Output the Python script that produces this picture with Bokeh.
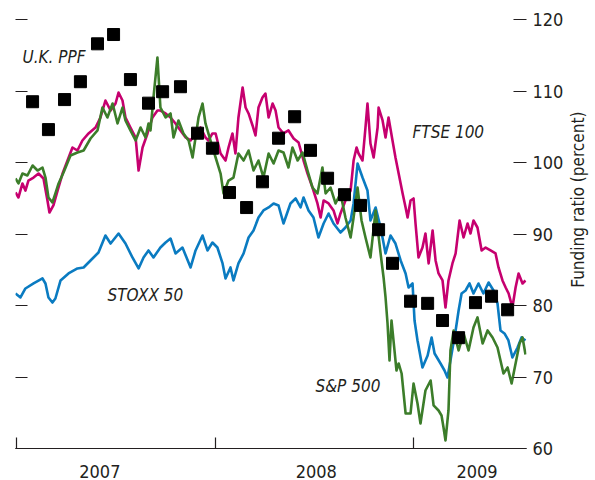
import math
from bokeh.plotting import figure
from bokeh.layouts import row
from bokeh.models import Range1d, LinearAxis, FixedTicker, Label
from bokeh.core.properties import value
from bokeh.embed import file_html
from bokeh.resources import INLINE

FONT = "DejaVu Sans Condensed, Liberation Sans"
TXT = "#231F20"

# ---- axis data ----
year_bounds = [2007, 2008, 2009]
year_label_pos = [2007.42, 2008.51, 2009.32]
year_labels = ["2007", "2008", "2009"]
y_ticks = [60, 70, 80, 90, 100, 110, 120]
y_title = "Funding ratio (percent)"
y_title_center = 94.8

# ---- U.K. PPF (monthly squares) ----
ppf_t = [2007.081, 2007.161, 2007.242, 2007.322, 2007.408, 2007.489, 2007.574, 2007.665,
         2007.736, 2007.826, 2007.912, 2007.987, 2008.073, 2008.159, 2008.239, 2008.320,
         2008.401, 2008.481, 2008.567, 2008.652, 2008.733, 2008.824, 2008.894, 2008.985,
         2009.071, 2009.146, 2009.227, 2009.312, 2009.393, 2009.474]
ppf_v = [108.5, 104.6, 108.8, 111.3, 116.6, 117.9, 111.6, 108.3, 109.9, 110.6, 104.1, 102.0,
         95.8, 93.7, 97.3, 103.4, 106.4, 101.7, 97.8, 95.5, 94.0, 90.6, 85.9, 80.6,
         80.3, 77.9, 75.5, 80.4, 81.3, 79.4]

# ---- STOXX 50 ----
stoxx_t = [2006.995, 2007.020, 2007.045, 2007.086, 2007.131, 2007.146, 2007.161, 2007.181,
           2007.196, 2007.222, 2007.262, 2007.307, 2007.338, 2007.373, 2007.413, 2007.448,
           2007.474, 2007.514, 2007.549, 2007.584, 2007.615, 2007.640, 2007.665, 2007.690,
           2007.725, 2007.751, 2007.776, 2007.801, 2007.836, 2007.877, 2007.902, 2007.937,
           2007.962, 2007.987, 2008.012, 2008.038, 2008.053, 2008.078, 2008.093, 2008.118,
           2008.144, 2008.169, 2008.194, 2008.219, 2008.244, 2008.270, 2008.295, 2008.320,
           2008.345, 2008.380, 2008.406, 2008.431, 2008.446, 2008.471, 2008.496, 2008.521,
           2008.547, 2008.572, 2008.597, 2008.632, 2008.657, 2008.683, 2008.698, 2008.718,
           2008.743, 2008.768, 2008.783, 2008.809, 2008.834, 2008.859, 2008.884, 2008.909,
           2008.935, 2008.960, 2008.975, 2008.995, 2009.005, 2009.020, 2009.045, 2009.071,
           2009.091, 2009.106, 2009.136, 2009.156, 2009.171, 2009.186, 2009.212, 2009.227,
           2009.242, 2009.262, 2009.282, 2009.302, 2009.327, 2009.352, 2009.378, 2009.403,
           2009.423, 2009.438, 2009.458, 2009.478, 2009.498, 2009.524, 2009.544, 2009.564]
stoxx_v = [81.68, 81.12, 82.38, 83.08, 83.78, 83.08, 81.12, 80.42,
           80.98, 83.50, 84.48, 85.18, 85.32, 86.30, 87.41, 89.79,
           88.67, 90.07, 88.67, 86.72, 85.18, 86.72, 87.70, 86.72,
           88.11, 88.81, 89.37, 87.28, 88.11, 85.32, 87.70, 89.79,
           87.70, 88.81, 88.11, 85.88, 83.78, 85.32, 83.50, 85.88,
           87.28, 89.51, 90.49, 92.31, 93.29, 93.71, 94.27, 93.99,
           91.47, 94.27, 94.97, 93.71, 95.11, 93.29, 92.31, 89.51,
           91.47, 92.87, 91.47, 90.21, 90.91, 91.89, 94.27, 99.86,
           97.90, 96.08, 91.89, 93.71, 90.91, 87.28, 89.79, 88.67,
           86.30, 84.48, 82.52, 83.08, 77.91, 75.11, 71.33, 73.01,
           75.53, 73.29, 71.89, 70.91, 69.93, 72.31, 76.51, 79.30,
           81.68, 82.10, 83.08, 81.68, 83.08, 81.68, 83.22, 82.10,
           80.28, 76.51, 76.09, 75.11, 72.73, 74.13, 75.53, 75.11]

# ---- S&P 500 ----
sp_t = [2006.995, 2007.010, 2007.030, 2007.055, 2007.081, 2007.106, 2007.131, 2007.146,
        2007.161, 2007.181, 2007.196, 2007.212, 2007.237, 2007.272, 2007.307, 2007.338,
        2007.373, 2007.408, 2007.433, 2007.458, 2007.484, 2007.509, 2007.534, 2007.549,
        2007.574, 2007.600, 2007.625, 2007.650, 2007.665, 2007.675, 2007.690, 2007.710,
        2007.725, 2007.751, 2007.776, 2007.791, 2007.816, 2007.841, 2007.867, 2007.887,
        2007.902, 2007.917, 2007.937, 2007.952, 2007.977, 2008.003, 2008.028, 2008.043,
        2008.068, 2008.093, 2008.118, 2008.144, 2008.169, 2008.194, 2008.219, 2008.244,
        2008.270, 2008.295, 2008.320, 2008.345, 2008.370, 2008.390, 2008.416, 2008.441,
        2008.466, 2008.491, 2008.516, 2008.541, 2008.557, 2008.582, 2008.607, 2008.632,
        2008.657, 2008.683, 2008.698, 2008.718, 2008.738, 2008.758, 2008.783, 2008.809,
        2008.834, 2008.849, 2008.859, 2008.869, 2008.879, 2008.889, 2008.899, 2008.914,
        2008.925, 2008.940, 2008.960, 2008.985, 2009.000, 2009.020, 2009.035, 2009.060,
        2009.086, 2009.101, 2009.126, 2009.141, 2009.151, 2009.161, 2009.176, 2009.186,
        2009.202, 2009.227, 2009.252, 2009.277, 2009.302, 2009.322, 2009.348, 2009.373,
        2009.398, 2009.423, 2009.438, 2009.453, 2009.474, 2009.494, 2009.514, 2009.534,
        2009.549, 2009.564]
sp_v = [97.77, 97.07, 98.46, 98.18, 99.58, 98.88, 99.30, 97.90,
        95.11, 94.41, 95.67, 97.07, 98.60, 100.98, 101.40, 101.68,
        103.36, 104.48, 107.69, 106.30, 108.25, 105.46, 107.69, 105.88,
        104.48, 103.08, 104.90, 103.50, 105.46, 104.48, 109.09, 114.69,
        107.69, 106.30, 106.86, 103.50, 105.88, 104.06, 103.08, 100.70,
        103.50, 106.30, 108.25, 105.46, 103.08, 100.70, 98.46, 95.67,
        97.48, 97.90, 101.26, 100.28, 101.68, 98.88, 100.28, 97.90,
        101.26, 99.86, 101.68, 101.40, 99.30, 102.10, 100.28, 101.40,
        98.88, 96.50, 95.67, 99.30, 95.67, 96.50, 94.27, 95.67,
        92.31, 89.51, 92.31, 96.50, 91.89, 89.51, 86.72, 93.29,
        87.28, 83.92, 81.12, 77.48, 72.31, 77.91, 75.11, 70.91,
        71.89, 70.49, 64.90, 64.90, 69.09, 66.30, 63.50, 68.11,
        69.51, 66.02, 65.32, 64.62, 62.94, 61.12, 65.32, 73.71,
        76.51, 73.71, 76.09, 73.71, 76.93, 78.34, 74.68, 76.51,
        75.53, 74.13, 72.31, 70.49, 71.33, 69.09, 71.89, 74.68,
        75.53, 73.15]

# ---- FTSE 100 ----
ftse_t = [2006.995, 2007.010, 2007.030, 2007.045, 2007.060, 2007.086, 2007.111, 2007.136,
          2007.156, 2007.166, 2007.186, 2007.207, 2007.232, 2007.257, 2007.282, 2007.307,
          2007.332, 2007.363, 2007.398, 2007.423, 2007.448, 2007.474, 2007.499, 2007.514,
          2007.534, 2007.549, 2007.574, 2007.600, 2007.615, 2007.635, 2007.660, 2007.685,
          2007.710, 2007.725, 2007.751, 2007.776, 2007.801, 2007.826, 2007.852, 2007.877,
          2007.902, 2007.927, 2007.952, 2007.967, 2007.987, 2008.003, 2008.028, 2008.053,
          2008.068, 2008.088, 2008.103, 2008.118, 2008.139, 2008.154, 2008.169, 2008.189,
          2008.204, 2008.219, 2008.239, 2008.254, 2008.270, 2008.290, 2008.305, 2008.320,
          2008.345, 2008.370, 2008.396, 2008.421, 2008.446, 2008.466, 2008.491, 2008.516,
          2008.532, 2008.547, 2008.572, 2008.597, 2008.617, 2008.632, 2008.657, 2008.683,
          2008.698, 2008.713, 2008.723, 2008.743, 2008.758, 2008.768, 2008.783, 2008.799,
          2008.819, 2008.824, 2008.844, 2008.859, 2008.874, 2008.894, 2008.909, 2008.925,
          2008.945, 2008.960, 2008.970, 2008.985, 2009.000, 2009.010, 2009.025, 2009.045,
          2009.060, 2009.076, 2009.096, 2009.111, 2009.126, 2009.146, 2009.161, 2009.176,
          2009.196, 2009.212, 2009.232, 2009.252, 2009.272, 2009.287, 2009.302, 2009.322,
          2009.343, 2009.363, 2009.388, 2009.413, 2009.428, 2009.448, 2009.464, 2009.479,
          2009.498, 2009.514, 2009.529, 2009.549, 2009.564]
ftse_v = [95.81, 95.11, 97.07, 96.08, 97.48, 97.90, 98.46, 97.76,
          94.69, 93.01, 93.99, 96.08, 98.46, 100.28, 102.10, 101.68,
          103.08, 104.06, 104.90, 106.30, 108.67, 107.27, 108.25, 109.79,
          108.67, 106.30, 104.90, 103.50, 98.88, 102.10, 104.06, 106.30,
          107.27, 107.27, 106.86, 106.30, 105.46, 104.48, 103.50, 103.08,
          104.06, 104.90, 103.50, 103.08, 104.06, 104.06, 101.26, 100.28,
          102.10, 104.06, 101.26, 106.30, 110.49, 107.69, 106.86, 105.18,
          103.78, 107.69, 109.09, 109.65, 106.30, 108.25, 107.27, 104.90,
          104.06, 104.48, 103.36, 102.80, 100.28, 98.46, 96.50, 94.27,
          92.31, 94.69, 94.27, 93.29, 91.47, 92.87, 94.69, 96.08,
          100.28, 102.10, 101.26, 100.28, 104.90, 108.25, 102.66, 100.70,
          104.90, 107.69, 105.88, 103.50, 106.30, 103.08, 100.70, 98.46,
          95.67, 93.71, 92.31, 94.69, 94.97, 91.47, 86.72, 88.11,
          90.07, 85.88, 90.49, 86.30, 84.48, 83.50, 79.72, 83.50,
          85.88, 87.28, 91.89, 89.51, 91.47, 90.07, 91.89, 90.91,
          87.70, 88.11, 87.70, 87.28, 85.32, 83.50, 82.52, 81.68,
          79.72, 82.52, 84.48, 83.08, 83.50]

# ---- series labels ----
lab_text = ["U.K. PPF", "FTSE 100", "STOXX 50", "S&P 500"]
lab_t = [2007.030, 2008.995, 2007.458, 2008.506]
lab_v = [114.7, 104.2, 81.5, 68.7]

MAGENTA = "#C6006F"
GREEN = "#3C7D2A"
BLUE = "#0A7BC1"

Y_RANGE = (60, 121.54)

p = figure(width=566, height=480, output_backend="svg", toolbar_location=None,
           x_range=Range1d(2006.995, 2009.569), y_range=Range1d(*Y_RANGE),
           y_axis_location="right",
           min_border_left=15, min_border_right=40, min_border_top=8, min_border_bottom=32)
p.outline_line_color = None
p.xgrid.visible = False
p.ygrid.visible = False
p.background_fill_color = "white"
p.border_fill_color = "white"

# right axis
ra = p.yaxis[0]
ra.ticker = FixedTicker(ticks=y_ticks)
ra.axis_line_color = None
ra.major_tick_in = 13
ra.major_tick_out = 0
ra.minor_tick_line_color = None
ra.major_tick_line_color = TXT
ra.major_tick_line_width = 1.2
ra.major_label_standoff = 6
ra.major_label_text_font = FONT
ra.major_label_text_font_size = "18px"
ra.major_label_text_color = TXT

# left axis: tick marks only (drawn as minor ticks, no labels)
la = LinearAxis(ticker=FixedTicker(ticks=[], minor_ticks=y_ticks), axis_line_color=None,
                major_tick_line_color=None, minor_tick_in=12, minor_tick_out=0,
                minor_tick_line_color=TXT, minor_tick_line_width=1.2)
p.add_layout(la, "left")

# bottom axis
xa = p.xaxis[0]
xa.ticker = FixedTicker(ticks=year_label_pos, minor_ticks=year_bounds)
xa.major_label_overrides = {k: v for k, v in zip(year_label_pos, year_labels)}
xa.major_tick_line_color = None
xa.minor_tick_in = 11
xa.minor_tick_out = 0
xa.minor_tick_line_color = TXT
xa.minor_tick_line_width = 1.2
xa.axis_line_color = TXT
xa.axis_line_width = 1.2
xa.major_label_standoff = 10
xa.major_label_text_font = FONT
xa.major_label_text_font_size = "18px"
xa.major_label_text_color = TXT

p.line(ftse_t, ftse_v, line_color=MAGENTA, line_width=2.6, line_join="round")
p.line(stoxx_t, stoxx_v, line_color=BLUE, line_width=2.6, line_join="round")
p.line(sp_t, sp_v, line_color=GREEN, line_width=2.6, line_join="round")
p.scatter(ppf_t, ppf_v, marker="square", size=12, fill_color="black", line_color="black")

for txt, t, v in zip(lab_text, lab_t, lab_v):
    p.add_layout(Label(x=t, y=v, text=txt, text_font=FONT, text_font_size="17px",
                       text_font_style="italic", text_color=TXT,
                       text_align="left", text_baseline="middle"))

# narrow side strip carrying the vertical axis title
p2 = figure(width=29, height=480, output_backend="svg", toolbar_location=None,
            x_range=Range1d(0, 1), y_range=Range1d(*Y_RANGE),
            x_axis_location=None, y_axis_location=None,
            min_border_left=0, min_border_right=0, min_border_top=8, min_border_bottom=32)
p2.outline_line_color = None
p2.xgrid.visible = False
p2.ygrid.visible = False
p2.text(x=[0.38], y=[y_title_center], text=[y_title], angle=math.pi / 2,
        text_font=value(FONT), text_font_size="17px", text_color=TXT,
        text_align="center", text_baseline="middle")

layout = row(p, p2, spacing=0)
open("out.html", "w").write(file_html(layout, INLINE))
